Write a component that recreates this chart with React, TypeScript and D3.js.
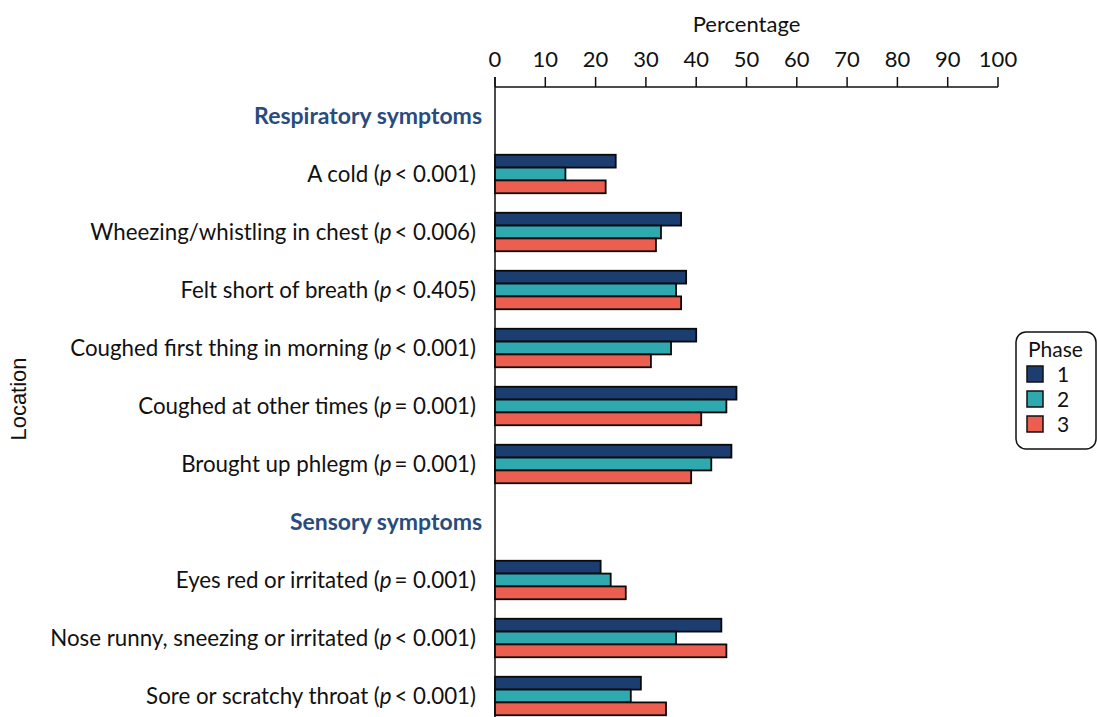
import React from 'react';
import * as d3 from 'd3';

// rows: section headers are kept in the same band as items
const rowLabels = [
    'Respiratory symptoms',
    'A cold',
    'Wheezing/whistling in chest',
    'Felt short of breath',
    'Coughed first thing in morning',
    'Coughed at other times',
    'Brought up phlegm',
    'Sensory symptoms',
    'Eyes red or irritated',
    'Nose runny, sneezing or irritated',
    'Sore or scratchy throat',
];
const headerRows = ['Respiratory symptoms', 'Sensory symptoms'];
const pValues: Record<string, string> = {
    'A cold': '< 0.001',
    'Wheezing/whistling in chest': '< 0.006',
    'Felt short of breath': '< 0.405',
    'Coughed first thing in morning': '< 0.001',
    'Coughed at other times': '= 0.001',
    'Brought up phlegm': '= 0.001',
    'Eyes red or irritated': '= 0.001',
    'Nose runny, sneezing or irritated': '< 0.001',
    'Sore or scratchy throat': '< 0.001',
};
const phases = ['1', '2', '3'];
const phase1 = [24, 37, 38, 40, 48, 47, 21, 45, 29];
const phase2 = [14, 33, 36, 35, 46, 43, 23, 36, 27];
const phase3 = [22, 32, 37, 31, 41, 39, 26, 46, 34];
const xTicks = [0, 10, 20, 30, 40, 50, 60, 70, 80, 90, 100];

const COLORS = ['#1b3d6f', '#2ea9b0', '#ec5e50'];
const HEADER_COLOR = '#2a4c7d';
const FONT = 'Lato, "Open Sans", sans-serif';

const WIDTH = 1097, HEIGHT = 717;
const MARGIN = { LEFT: 495, RIGHT: 99, TOP: 87 };

const App = () => {
    const items = rowLabels.filter(r => headerRows.indexOf(r) < 0);
    const series = [phase1, phase2, phase3];

    const x = d3.scaleLinear().domain([0, 100]).range([MARGIN.LEFT, WIDTH - MARGIN.RIGHT]);
    const y = d3.scaleBand().domain(rowLabels).range([MARGIN.TOP, MARGIN.TOP + 58 * rowLabels.length]).paddingInner(0);
    const inner = d3.scaleBand().domain(phases).range([0, 38.5]);
    const groupOffset = (y.bandwidth() - 38.5) / 2;

    return (
        <svg width={WIDTH} height={HEIGHT} style={{ position: 'absolute', left: 0, top: 0, background: '#fff' }} fontFamily={FONT}>
            {/* axis title + ticks */}
            <text x={(x(0) + x(100)) / 2} y={32} textAnchor='middle' fontSize={22} fill='#111'>Percentage</text>
            <g>
                {xTicks.map(t => (
                    <g key={`tick-${t}`}>
                        <line x1={x(t)} x2={x(t)} y1={MARGIN.TOP} y2={MARGIN.TOP - 10} stroke='#111' strokeWidth={1.5} />
                        <text x={x(t)} y={67} textAnchor='middle' fontSize={22} fill='#111'>{t}</text>
                    </g>
                ))}
                <line x1={x(0)} x2={x(100)} y1={MARGIN.TOP} y2={MARGIN.TOP} stroke='#111' strokeWidth={1.5} />
                <line x1={x(0)} x2={x(0)} y1={MARGIN.TOP - 10} y2={HEIGHT} stroke='#111' strokeWidth={1.5} />
            </g>

            {/* y title */}
            <text transform={`translate(26, 399) rotate(-90)`} textAnchor='middle' fontSize={22}
                fontFamily='"Liberation Sans", Arial, sans-serif' fill='#111'>Location</text>

            {/* row labels */}
            {rowLabels.map(r => {
                const cy = (y(r) as number) + y.bandwidth() / 2;
                if (headerRows.indexOf(r) > -1) {
                    return <text key={`h-${r}`} x={482} y={cy} dy='0.35em' textAnchor='end' fontSize={23}
                        fontWeight='bold' fill={HEADER_COLOR}>{r}</text>;
                }
                return (
                    <text key={`l-${r}`} x={476} y={cy} dy='0.35em' textAnchor='end' fontSize={22.3} fill='#111'>
                        {`${r} (`}<tspan fontStyle='italic'>p</tspan>{`\u2009${pValues[r]})`}
                    </text>
                );
            })}

            {/* bars */}
            {items.map((r, i) => (
                <g key={`bars-${r}`} transform={`translate(0, ${(y(r) as number) + groupOffset})`}>
                    {series.map((s, j) => (
                        <rect key={`bar-${r}-${j}`} x={x(0)} y={inner(phases[j])} width={x(s[i]) - x(0)}
                            height={inner.bandwidth()} fill={COLORS[j]} stroke='#0a0a0a' strokeWidth={1.8} />
                    ))}
                </g>
            ))}

            {/* legend */}
            <g transform='translate(1016, 332)'>
                <rect x={0} y={0} width={80} height={117} rx={10} fill='#fff' stroke='#111' strokeWidth={1.5} />
                <text x={12} y={25} fontSize={21} fill='#111'>Phase</text>
                {phases.map((p, j) => (
                    <g key={`leg-${p}`} transform={`translate(11, ${34 + j * 25})`}>
                        <rect x={0} y={0} width={16} height={16} fill={COLORS[j]} stroke='#111' strokeWidth={1.5} />
                        <text x={30} y={16} fontSize={21} fill='#111'>{p}</text>
                    </g>
                ))}
            </g>
        </svg>
    );
};

export default App;
